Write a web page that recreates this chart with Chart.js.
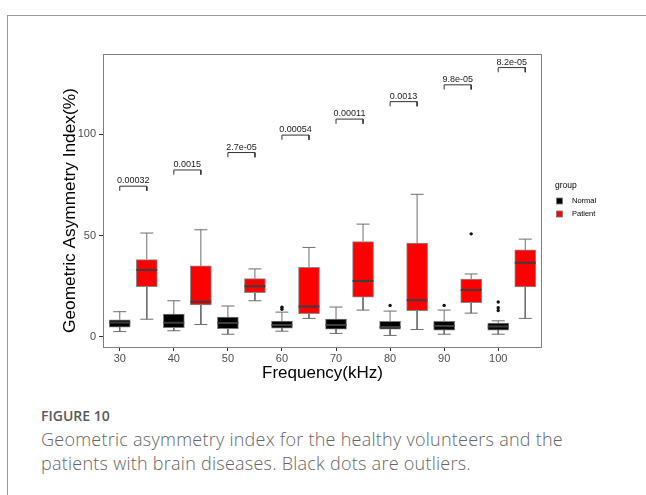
<!DOCTYPE html>
<html>
<head>
<meta charset="utf-8">
<script src="https://cdn.jsdelivr.net/npm/chart.js@4.4.0/dist/chart.umd.min.js"></script>
<style>
  html, body { margin: 0; padding: 0; background: #fff; }
  body { width: 646px; height: 495px; position: relative; overflow: hidden; }
  .card { position: absolute; left: 7px; top: 15px; right: -2px; bottom: -2px;
          border-top: 1px solid #9a9a9a; border-left: 1px solid #9a9a9a; }
  #wrap { position: absolute; left: 56px; top: 40px; width: 590px; height: 348px; }
  .fig { position: absolute; left: 41px; top: 406px; font: 600 14px "Open Sans"; color: #595959; letter-spacing: 0px; }
  .cap { position: absolute; left: 41px; top: 428px; font: 300 18px/23.5px "Open Sans"; color: #666; letter-spacing: 0.25px; }
</style>
</head>
<body>
<div class="card"></div>
<div id="wrap"><canvas id="boxChart"></canvas></div>
<div class="fig">FIGURE 10</div>
<div class="cap">Geometric asymmetry index for the healthy volunteers and the<br>patients with brain diseases. Black dots are outliers.</div>
<script>
// Frequências (kHz) e estatísticas
const frequencies = [30, 40, 50, 60, 70, 80, 90, 100];
const groups = ['Normal', 'Patient'];

const normalLow  = [2.6, 3.0, 1.3, 2.8, 1.7, 0.7, 1.3, 1.3];
const normalQ1   = [4.8, 4.5, 4.0, 4.3, 3.8, 3.8, 3.3, 3.3];
const normalMed  = [7.1, 6.9, 6.8, 5.8, 5.8, 4.8, 5.3, 5.1];
const normalQ3   = [8.4, 11.2, 9.7, 7.8, 8.8, 7.6, 7.6, 6.8];
const normalHigh = [12.4, 17.8, 15.2, 12.2, 14.7, 12.7, 13.2, 7.9];

const patientLow  = [8.7, 6.1, 17.8, 9.1, 13.2, 3.6, 11.7, 9.1];
const patientQ1   = [24.8, 15.7, 21.8, 11.4, 19.6, 12.9, 16.8, 24.6];
const patientMed  = [33.0, 17.3, 24.9, 15.0, 27.6, 18.0, 23.1, 36.6];
const patientQ3   = [38.1, 35.0, 28.7, 34.3, 47.0, 46.2, 28.5, 42.9];
const patientHigh = [51.2, 52.8, 33.5, 44.1, 55.6, 70.3, 31.0, 48.2];

// Outliers (pontos pretos)
const normalOutlierFreq  = [60, 60, 80, 90, 100, 100, 100];
const normalOutlierValue = [13.6, 14.6, 15.5, 15.5, 17.2, 14.4, 13.0];
const patientOutlierFreq  = [90];
const patientOutlierValue = [50.8];

// Valores de p e altura dos colchetes
const pLabels = ['0.00032', '0.0015', '2.7e-05', '0.00054', '0.00011', '0.0013', '9.8e-05', '8.2e-05'];
const bracketHeights = [74.3, 82.3, 90.9, 99.5, 107.4, 116.0, 124.3, 132.8];

const yTicks = [0, 50, 100];

// Geometria (em unidades do eixo x)
const dodge = 5;
const boxHalf = 1.93;
const capHalf = 1.2;
const bracketDrop = 2.3;
const groupColors = ['#000000', '#ff0000'];
const axisFont = 'Liberation Sans, Arial, sans-serif';

function boxData(offset, q1, q3) {
    return frequencies.map((f, i) => ({ x: f + offset, y: [q1[i], q3[i]] }));
}

function medianData(offset, med) {
    const pts = [];
    frequencies.forEach((f, i) => {
        pts.push({ x: f + offset - boxHalf, y: med[i] }, { x: f + offset + boxHalf, y: med[i] }, { x: f + offset, y: null });
    });
    return pts;
}

function whiskerData(offset, low, q1, q3, high) {
    const pts = [];
    frequencies.forEach((f, i) => {
        const c = f + offset;
        pts.push({ x: c, y: q3[i] }, { x: c, y: high[i] }, { x: c, y: null });
        pts.push({ x: c - capHalf, y: high[i] }, { x: c + capHalf, y: high[i] }, { x: c, y: null });
        pts.push({ x: c, y: q1[i] }, { x: c, y: low[i] }, { x: c, y: null });
        pts.push({ x: c - capHalf, y: low[i] }, { x: c + capHalf, y: low[i] }, { x: c, y: null });
    });
    return pts;
}

function bracketData() {
    const pts = [];
    frequencies.forEach((f, i) => {
        const h = bracketHeights[i];
        pts.push({ x: f, y: h - bracketDrop }, { x: f, y: h }, { x: f + dodge, y: h }, { x: f + dodge, y: h - bracketDrop }, { x: f, y: null });
    });
    return pts;
}

function outlierData(offset, freqs, values) {
    return freqs.map((f, i) => ({ x: f + offset, y: values[i] }));
}

// Moldura do painel
const framePlugin = {
    id: 'frame',
    afterDatasetsDraw(chart) {
        const { ctx, chartArea: a } = chart;
        ctx.save();
        ctx.strokeStyle = '#808080';
        ctx.lineWidth = 1;
        ctx.strokeRect(Math.round(a.left) + 0.5, Math.round(a.top) + 0.5, Math.round(a.right - a.left) - 1, Math.round(a.bottom - a.top) - 1);
        ctx.restore();
    }
};

// Rótulos dos valores de p
const pLabelPlugin = {
    id: 'pLabels',
    afterDatasetsDraw(chart) {
        const { ctx, scales: { x, y } } = chart;
        ctx.save();
        ctx.font = '9px ' + axisFont;
        ctx.fillStyle = '#1a1a1a';
        ctx.textAlign = 'center';
        ctx.textBaseline = 'bottom';
        frequencies.forEach((f, i) => {
            ctx.fillText(pLabels[i], x.getPixelForValue(f + dodge / 2), y.getPixelForValue(bracketHeights[i]) - 1);
        });
        ctx.restore();
    }
};

// Legenda no estilo ggplot
const legendPlugin = {
    id: 'ggLegend',
    afterDraw(chart) {
        const { ctx, chartArea: a } = chart;
        const x0 = a.right + 13;
        ctx.save();
        ctx.textBaseline = 'middle';
        ctx.textAlign = 'left';
        ctx.fillStyle = '#000';
        ctx.font = '8.5px ' + axisFont;
        ctx.fillText('group', x0, 146);
        groups.forEach((g, i) => {
            const cy = 161 + i * 13;
            ctx.fillStyle = groupColors[i];
            ctx.fillRect(x0 + 1.5, cy - 3, 6, 6);
            ctx.strokeStyle = '#7a7a7a';
            ctx.lineWidth = 0.8;
            ctx.strokeRect(x0 + 1.5, cy - 3, 6, 6);
            ctx.fillStyle = '#000';
            ctx.font = '7.5px ' + axisFont;
            ctx.fillText(g, x0 + 17, cy);
        });
        ctx.restore();
    }
};

const lineBase = { type: 'line', pointRadius: 0, pointHoverRadius: 0, spanGaps: false, fill: false, tension: 0 };

const ctx = document.getElementById('boxChart').getContext('2d');
const boxChart = new Chart(ctx, {
    type: 'bar',
    data: {
        datasets: [
            { type: 'scatter', label: 'out-normal', data: outlierData(0, normalOutlierFreq, normalOutlierValue),
              pointRadius: 1.7, pointBackgroundColor: '#111', pointBorderWidth: 0, order: 0 },
            { type: 'scatter', label: 'out-patient', data: outlierData(dodge, patientOutlierFreq, patientOutlierValue),
              pointRadius: 1.7, pointBackgroundColor: '#111', pointBorderWidth: 0, order: 0 },
            Object.assign({}, lineBase, { label: 'med-normal', data: medianData(0, normalMed), borderColor: '#3d3d3d', borderWidth: 2, order: 1 }),
            Object.assign({}, lineBase, { label: 'med-patient', data: medianData(dodge, patientMed), borderColor: '#3d3d3d', borderWidth: 2, order: 1 }),
            Object.assign({}, lineBase, { label: 'brackets', data: bracketData(), borderColor: '#333', borderWidth: 1, order: 1 }),
            { type: 'bar', label: 'Normal', data: boxData(0, normalQ1, normalQ3), backgroundColor: groupColors[0],
              borderColor: '#7a7a7a', borderWidth: 1, borderSkipped: false, barThickness: 21, grouped: false, order: 3 },
            { type: 'bar', label: 'Patient', data: boxData(dodge, patientQ1, patientQ3), backgroundColor: groupColors[1],
              borderColor: '#8a8a8a', borderWidth: 1, borderSkipped: false, barThickness: 21, grouped: false, order: 3 },
            Object.assign({}, lineBase, { label: 'wh-normal', data: whiskerData(0, normalLow, normalQ1, normalQ3, normalHigh), borderColor: '#6e6e6e', borderWidth: 1, order: 4 }),
            Object.assign({}, lineBase, { label: 'wh-patient', data: whiskerData(dodge, patientLow, patientQ1, patientQ3, patientHigh), borderColor: '#6e6e6e', borderWidth: 1, order: 4 })
        ]
    },
    options: {
        responsive: true,
        maintainAspectRatio: false,
        animation: false,
        events: [],
        layout: { padding: { top: 14, right: 104, bottom: 0, left: 0 } },
        plugins: { legend: { display: false }, tooltip: { enabled: false } },
        scales: {
            x: {
                type: 'linear',
                offset: false,
                min: 26.9,
                max: 108.1,
                afterBuildTicks: (s) => { s.ticks = frequencies.map(v => ({ value: v })); },
                afterFit: (s) => { s.height = 40; },
                grid: { offset: false, drawOnChartArea: false, tickLength: 3, color: '#333' },
                border: { display: false },
                ticks: { font: { family: axisFont, size: 11 }, color: '#4d4d4d', padding: 1, maxRotation: 0, autoSkip: false },
                title: { display: true, text: 'Frequency(kHz)', font: { family: axisFont, size: 17 }, color: '#000', padding: { top: 4, bottom: 4 } }
            },
            y: {
                min: -5.5,
                max: 139.5,
                afterBuildTicks: (s) => { s.ticks = yTicks.map(v => ({ value: v })); },
                afterFit: (s) => { s.width = 47; },
                grid: { drawOnChartArea: false, tickLength: 4, color: '#333' },
                border: { display: false },
                ticks: { font: { family: axisFont, size: 11 }, color: '#4d4d4d', padding: 3 },
                title: { display: true, text: 'Geometric Asymmetry Index(%)    ', font: { family: axisFont, size: 17.3 }, color: '#000', padding: { top: 4, bottom: 4 } }
            }
        }
    },
    plugins: [framePlugin, pLabelPlugin, legendPlugin]
});
</script>
</body>
</html>
